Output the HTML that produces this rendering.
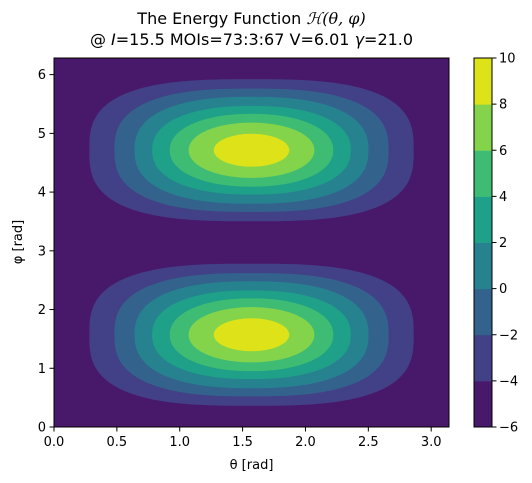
<!DOCTYPE html>
<html><head><meta charset="utf-8">
<style>
html,body{margin:0;padding:0;background:#fff;}
svg{display:block;font-family:"DejaVu Sans","Liberation Sans",sans-serif;}
</style></head>
<body>
<svg id="chart" width="532" height="483" viewBox="0 0 532 483" xmlns="http://www.w3.org/2000/svg">
  <text x="251.5" y="24" font-size="16" text-anchor="middle" fill="#000">The Energy Function <tspan font-style="italic" font-family="DejaVu Serif,serif">ℋ(θ, φ)</tspan></text>
  <text x="251.5" y="45" font-size="16" text-anchor="middle" fill="#000">@ <tspan font-style="italic">I</tspan>=15.5 MOIs=73:3:67 V=6.01 <tspan font-style="italic">γ</tspan>=21.0</text>
  <g id="plot"></g>
  <g id="axes"></g>
  <g id="cbar"></g>
  <text x="251.5" y="469" font-size="13" text-anchor="middle">θ [rad]</text>
  <text x="22" y="242" font-size="13" text-anchor="middle" transform="rotate(-90 22 242)">φ [rad]</text>
</svg>
<script>
// data
const levels = [-6,-4,-2,0,2,4,6,8,10];
const bandColors = ["#48186a","#424086","#33638d","#26828e","#1fa088","#3fbc73","#84d44b","#dde318"];
const blobCentersTheta = [1.5708, 1.5708];
const blobCentersPhi = [1.5708, 4.7124];
// half-widths (theta) and half-heights (phi) of region above each level (-4..8)
const thetaHalf = [1.29,1.09,0.93,0.79,0.65,0.50,0.30];
const phiHalf   = [1.21,1.05,0.91,0.755,0.62,0.47,0.28];
const shapeExp  = [2.9,2.65,2.45,2.3,2.15,2.05,2.0];
const xTicks = [0,0.5,1.0,1.5,2.0,2.5,3.0];
const yTicks = [0,1,2,3,4,5,6];
const cbTicks = [-6,-4,-2,0,2,4,6,8,10];

const NS="http://www.w3.org/2000/svg";
const X0=54,X1=449,Y0=58,Y1=427;
const xMax=Math.PI, yMax=2*Math.PI;
const sx=v=>X0+(v/xMax)*(X1-X0);
const sy=v=>Y1-(v/yMax)*(Y1-Y0);
function mk(tag,attrs,parent){const e=document.createElementNS(NS,tag);for(const k in attrs)e.setAttribute(k,attrs[k]);parent.appendChild(e);return e;}
const plot=document.getElementById('plot');
const bg=mk('rect',{x:X0,y:Y0,width:X1-X0,height:Y1-Y0,fill:bandColors[0]},plot);


blobCentersTheta.forEach((ct,bi)=>{
  const cp=blobCentersPhi[bi];
  thetaHalf.forEach((a,i)=>{
    const b=phiHalf[i],n=shapeExp[i];
    let d='';
    for(let k=0;k<=180;k++){
      const t=k/180*2*Math.PI,c=Math.cos(t),s=Math.sin(t);
      const x=ct+a*Math.sign(c)*Math.pow(Math.abs(c),2/n);
      const y=cp+b*Math.sign(s)*Math.pow(Math.abs(s),2/n);
      d+=(k?'L':'M')+sx(x).toFixed(2)+' '+sy(y).toFixed(2);
    }
    const p=mk('path',{d:d+'Z',fill:bandColors[i+1]},plot);
    
    
  });
});
const axes=document.getElementById('axes');
mk('rect',{x:X0,y:Y0,width:X1-X0,height:Y1-Y0,fill:'none',stroke:'#000','stroke-width':1},axes);
xTicks.forEach(v=>{
  mk('line',{x1:sx(v),x2:sx(v),y1:Y1,y2:Y1+4.5,stroke:'#000'},axes);
  const t=mk('text',{x:sx(v),y:Y1+19,'font-size':13,'text-anchor':'middle'},axes);
  t.textContent=v.toFixed(1);
  
  
});
yTicks.forEach(v=>{
  mk('line',{x1:X0-4.5,x2:X0,y1:sy(v),y2:sy(v),stroke:'#000'},axes);
  const t=mk('text',{x:X0-8,y:sy(v)+4.5,'font-size':13,'text-anchor':'end'},axes);
  t.textContent=v;
  
  
});
const cb=document.getElementById('cbar');
const CX0=474,CX1=492;
const cy=v=>Y1-(v-levels[0])/(levels[levels.length-1]-levels[0])*(Y1-Y0);
bandColors.forEach((c,i)=>{
  const r=mk('rect',{x:CX0,y:cy(levels[i+1]),width:CX1-CX0,height:cy(levels[i])-cy(levels[i+1])+0.5,fill:c},cb);
  
  
});
mk('rect',{x:CX0,y:Y0,width:CX1-CX0,height:Y1-Y0,fill:'none',stroke:'#000'},cb);
cbTicks.forEach(v=>{
  mk('line',{x1:CX1,x2:CX1+4.5,y1:cy(v),y2:cy(v),stroke:'#000'},cb);
  const t=mk('text',{x:CX1+7,y:cy(v)+4.5,'font-size':13},cb);
  t.textContent=v<0?'\u2212'+Math.abs(v):String(v);
  
  
});
</script>
</body></html>
